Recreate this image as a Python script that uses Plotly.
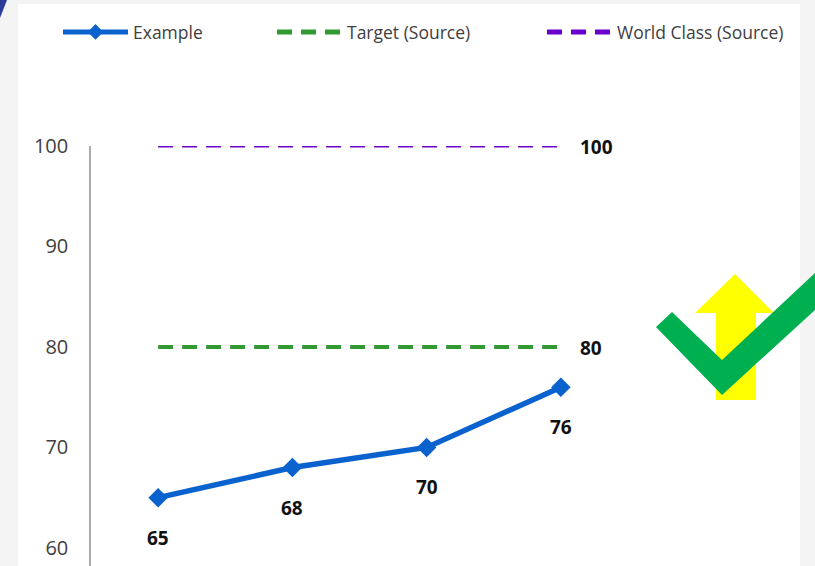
import plotly.graph_objects as go

categories = ["Q1", "Q2", "Q3", "Q4"]
example_values = [65, 68, 70, 76]
target_values = [80, 80, 80, 80]
world_class_values = [100, 100, 100, 100]
y_ticks = [60, 70, 80, 90, 100]

W, H = 815, 566
L, R, T, B = 91, 187, 146, 0
PW = W - L - R
PH = H - T - B

def px(x):
    return (x - L) / PW

def py(y):
    return (H - B - y) / PH

def path(points):
    return "M " + " L ".join(f"{px(x):.5f},{py(y):.5f}" for x, y in points) + " Z"

FONT = "Open Sans"
BLUE = "#0A62CE"
GREEN = "#339933"
PURPLE = "#6A00CC"

fig = go.Figure()
fig.add_trace(go.Scatter(
    x=categories, y=example_values, name="Example", mode="lines+markers",
    line=dict(color=BLUE, width=5.5),
    marker=dict(symbol="diamond", size=15, color=BLUE),
    legend="legend",
))
fig.add_trace(go.Scatter(
    x=categories, y=target_values, name="Target (Source)", mode="lines",
    line=dict(color=GREEN, width=4, dash="15px,9px"),
    legend="legend2",
))
fig.add_trace(go.Scatter(
    x=categories, y=world_class_values, name="World Class (Source)", mode="lines",
    line=dict(color=PURPLE, width=3, dash="15px,9px"),
    legend="legend3",
))

annotations = []
for c, v in zip(categories, example_values):
    annotations.append(dict(x=c, y=v, text=str(v), showarrow=False, yshift=-40,
                            font=dict(family=FONT, size=19, color="#111111", weight="bold")))
for vals in (target_values, world_class_values):
    annotations.append(dict(x=categories[-1], y=vals[-1], text=str(vals[-1]), showarrow=False,
                            xanchor="left", xshift=17, yshift=-1,
                            font=dict(family=FONT, size=19, color="#111111", weight="bold")))

shapes = [
    dict(type="rect", xref="paper", yref="paper", x0=px(18), x1=px(800), y0=py(H + 5), y1=py(4),
         fillcolor="white", line=dict(width=0), layer="below"),
    dict(type="path", xref="paper", yref="paper", path=path([(0, 0), (7, 0), (0, 18)]),
         fillcolor="#2B3C9B", line=dict(width=0), layer="below"),
    dict(type="path", xref="paper", yref="paper",
         path=path([(735, 274), (774, 313), (756, 313), (756, 400), (716, 400), (716, 313), (695, 313)]),
         fillcolor="#FFFF00", line=dict(width=0), layer="above"),
    dict(type="path", xref="paper", yref="paper",
         path=path([(656, 327), (672, 312), (722, 360), (815, 273), (815, 310), (722, 395)]),
         fillcolor="#00B050", line=dict(width=0), layer="above"),
]

def legend_at(x_px):
    return dict(orientation="h", xref="container", yref="container",
                x=x_px / W, y=1 - 14 / H, xanchor="left", yanchor="top",
                font=dict(family=FONT, size=17.5, color="#404040"),
                itemwidth=65, bgcolor="rgba(0,0,0,0)", itemsizing="constant")

fig.update_layout(
    width=W, height=H,
    margin=dict(l=L, r=R, t=T, b=B, autoexpand=False),
    paper_bgcolor="#F4F4F5",
    plot_bgcolor="rgba(0,0,0,0)",
    font=dict(family=FONT, color="#404040"),
    showlegend=True,
    legend=legend_at(58),
    legend2=legend_at(272),
    legend3=legend_at(542),
    xaxis=dict(type="category", range=[-0.5, 3.5], showticklabels=False, showgrid=False,
               zeroline=False, showline=False, ticks=""),
    yaxis=dict(range=[58.2, 100], tickvals=y_ticks, showgrid=False, zeroline=False,
               showline=True, linecolor="#ABABAB", linewidth=1.5, ticks="",
               ticklabelstandoff=17,
               tickfont=dict(family=FONT, size=20, color="#404040")),
    annotations=annotations,
    shapes=shapes,
)

fig.write_html("out.html")
